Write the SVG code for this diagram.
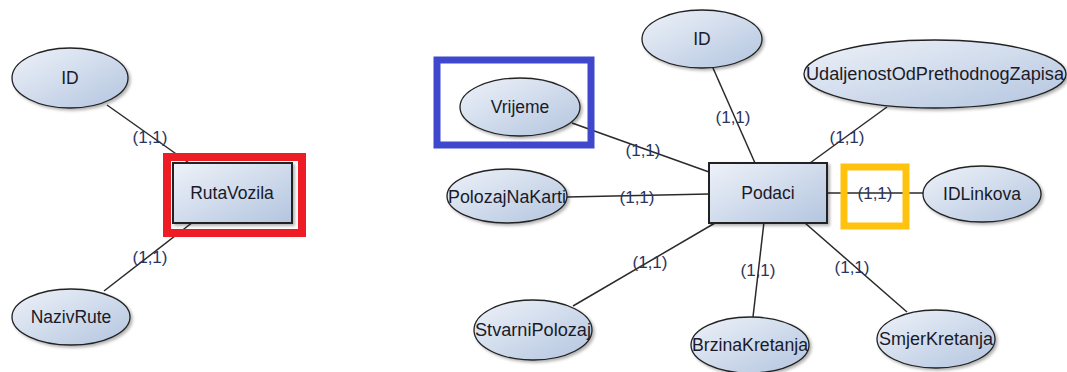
<svg xmlns="http://www.w3.org/2000/svg" width="1067" height="372" viewBox="0 0 1067 372">
<defs>
<linearGradient id="g" x1="0" y1="0" x2="1" y2="1">
<stop offset="0" stop-color="#eef2f9"/>
<stop offset="1" stop-color="#b3c5df"/>
</linearGradient>
<filter id="sh" x="-10%" y="-10%" width="125%" height="130%">
<feDropShadow dx="2" dy="2" stdDeviation="1.5" flood-color="#000" flood-opacity="0.3"/>
</filter>
</defs>
<style>
.e{fill:url(#g);stroke:#222;stroke-width:1.3;filter:url(#sh)}
.r{fill:url(#g);stroke:#222;stroke-width:2;filter:url(#sh)}
.t{font-family:"Liberation Sans",Arial,sans-serif;font-size:17.5px;fill:#1a1a28;text-anchor:middle;dominant-baseline:central}
.c{font-family:"Liberation Sans",Arial,sans-serif;font-size:17px;fill:#2a355e;text-anchor:middle;dominant-baseline:central}
.l{stroke:#2a2a2a;stroke-width:1.5;fill:none}
.hl{fill:none}
</style>
<rect width="1067" height="372" fill="#fff"/>
<g id="connectors">
<line class="l" x1="107" y1="105" x2="189" y2="163"/>
<line class="l" x1="104" y1="291" x2="193" y2="222"/>
<line class="l" x1="572" y1="123" x2="709" y2="172"/>
<line class="l" x1="567" y1="197" x2="709" y2="194"/>
<line class="l" x1="713" y1="68" x2="755" y2="163"/>
<line class="l" x1="887" y1="107" x2="810" y2="163"/>
<line class="l" x1="822" y1="193" x2="923" y2="193"/>
<line class="l" x1="715" y1="223" x2="573" y2="306"/>
<line class="l" x1="764" y1="222" x2="753" y2="317"/>
<line class="l" x1="805" y1="223" x2="907" y2="312"/>
<text class="c" x="150" y="137">(1,1)</text>
<text class="c" x="150" y="257">(1,1)</text>
<text class="c" x="643" y="150">(1,1)</text>
<text class="c" x="637" y="197">(1,1)</text>
<text class="c" x="733" y="117">(1,1)</text>
<text class="c" x="847" y="137">(1,1)</text>
<text class="c" x="875" y="193">(1,1)</text>
<text class="c" x="650" y="262">(1,1)</text>
<text class="c" x="758" y="270">(1,1)</text>
<text class="c" x="852" y="267">(1,1)</text>
</g>
<g id="n-id1"><ellipse class="e" cx="70" cy="78" rx="58" ry="30"/><text class="t" x="70" y="78">ID</text></g>
<g id="n-rutavozila"><rect class="r" x="173" y="163" width="119" height="60"/><text class="t" x="232" y="193">RutaVozila</text></g>
<g id="n-nazivrute"><ellipse class="e" cx="71" cy="317" rx="59" ry="28"/><text class="t" x="71" y="317">NazivRute</text></g>
<g id="n-vrijeme"><ellipse class="e" cx="520" cy="107" rx="60" ry="29"/><text class="t" x="520" y="107">Vrijeme</text></g>
<g id="n-id2"><ellipse class="e" cx="702" cy="39" rx="60" ry="29"/><text class="t" x="702" y="39">ID</text></g>
<g id="n-udaljenost"><ellipse class="e" cx="935" cy="74" rx="131" ry="34"/><text class="t" x="935" y="74" textLength="258" lengthAdjust="spacingAndGlyphs">UdaljenostOdPrethodnogZapisa</text></g>
<g id="n-polozaj"><ellipse class="e" cx="507" cy="196" rx="60" ry="27"/><text class="t" x="507" y="197" textLength="118" lengthAdjust="spacingAndGlyphs">PolozajNaKarti</text></g>
<g id="n-podaci"><rect class="r" x="709" y="163" width="118" height="60"/><text class="t" x="768" y="193">Podaci</text></g>
<g id="n-idlinkova"><ellipse class="e" cx="982" cy="194" rx="59" ry="28"/><text class="t" x="982" y="194">IDLinkova</text></g>
<g id="n-stvarni"><ellipse class="e" cx="533" cy="330" rx="59" ry="30"/><text class="t" x="533" y="330" textLength="116" lengthAdjust="spacingAndGlyphs">StvarniPolozaj</text></g>
<g id="n-brzina"><ellipse class="e" cx="750" cy="345" rx="59" ry="28"/><text class="t" x="750" y="345" textLength="116" lengthAdjust="spacingAndGlyphs">BrzinaKretanja</text></g>
<g id="n-smjer"><ellipse class="e" cx="936" cy="339" rx="59" ry="29"/><text class="t" x="936" y="339" textLength="114" lengthAdjust="spacingAndGlyphs">SmjerKretanja</text></g>
<g id="highlights">
<rect class="hl" x="167" y="157" width="135" height="76" stroke="#ee1c25" stroke-width="8"/>
<rect class="hl" x="437" y="60" width="154" height="85" stroke="#3f48cc" stroke-width="7"/>
<rect class="hl" x="844" y="167" width="62" height="59" stroke="#ffc20e" stroke-width="7"/>
</g>
</svg>
